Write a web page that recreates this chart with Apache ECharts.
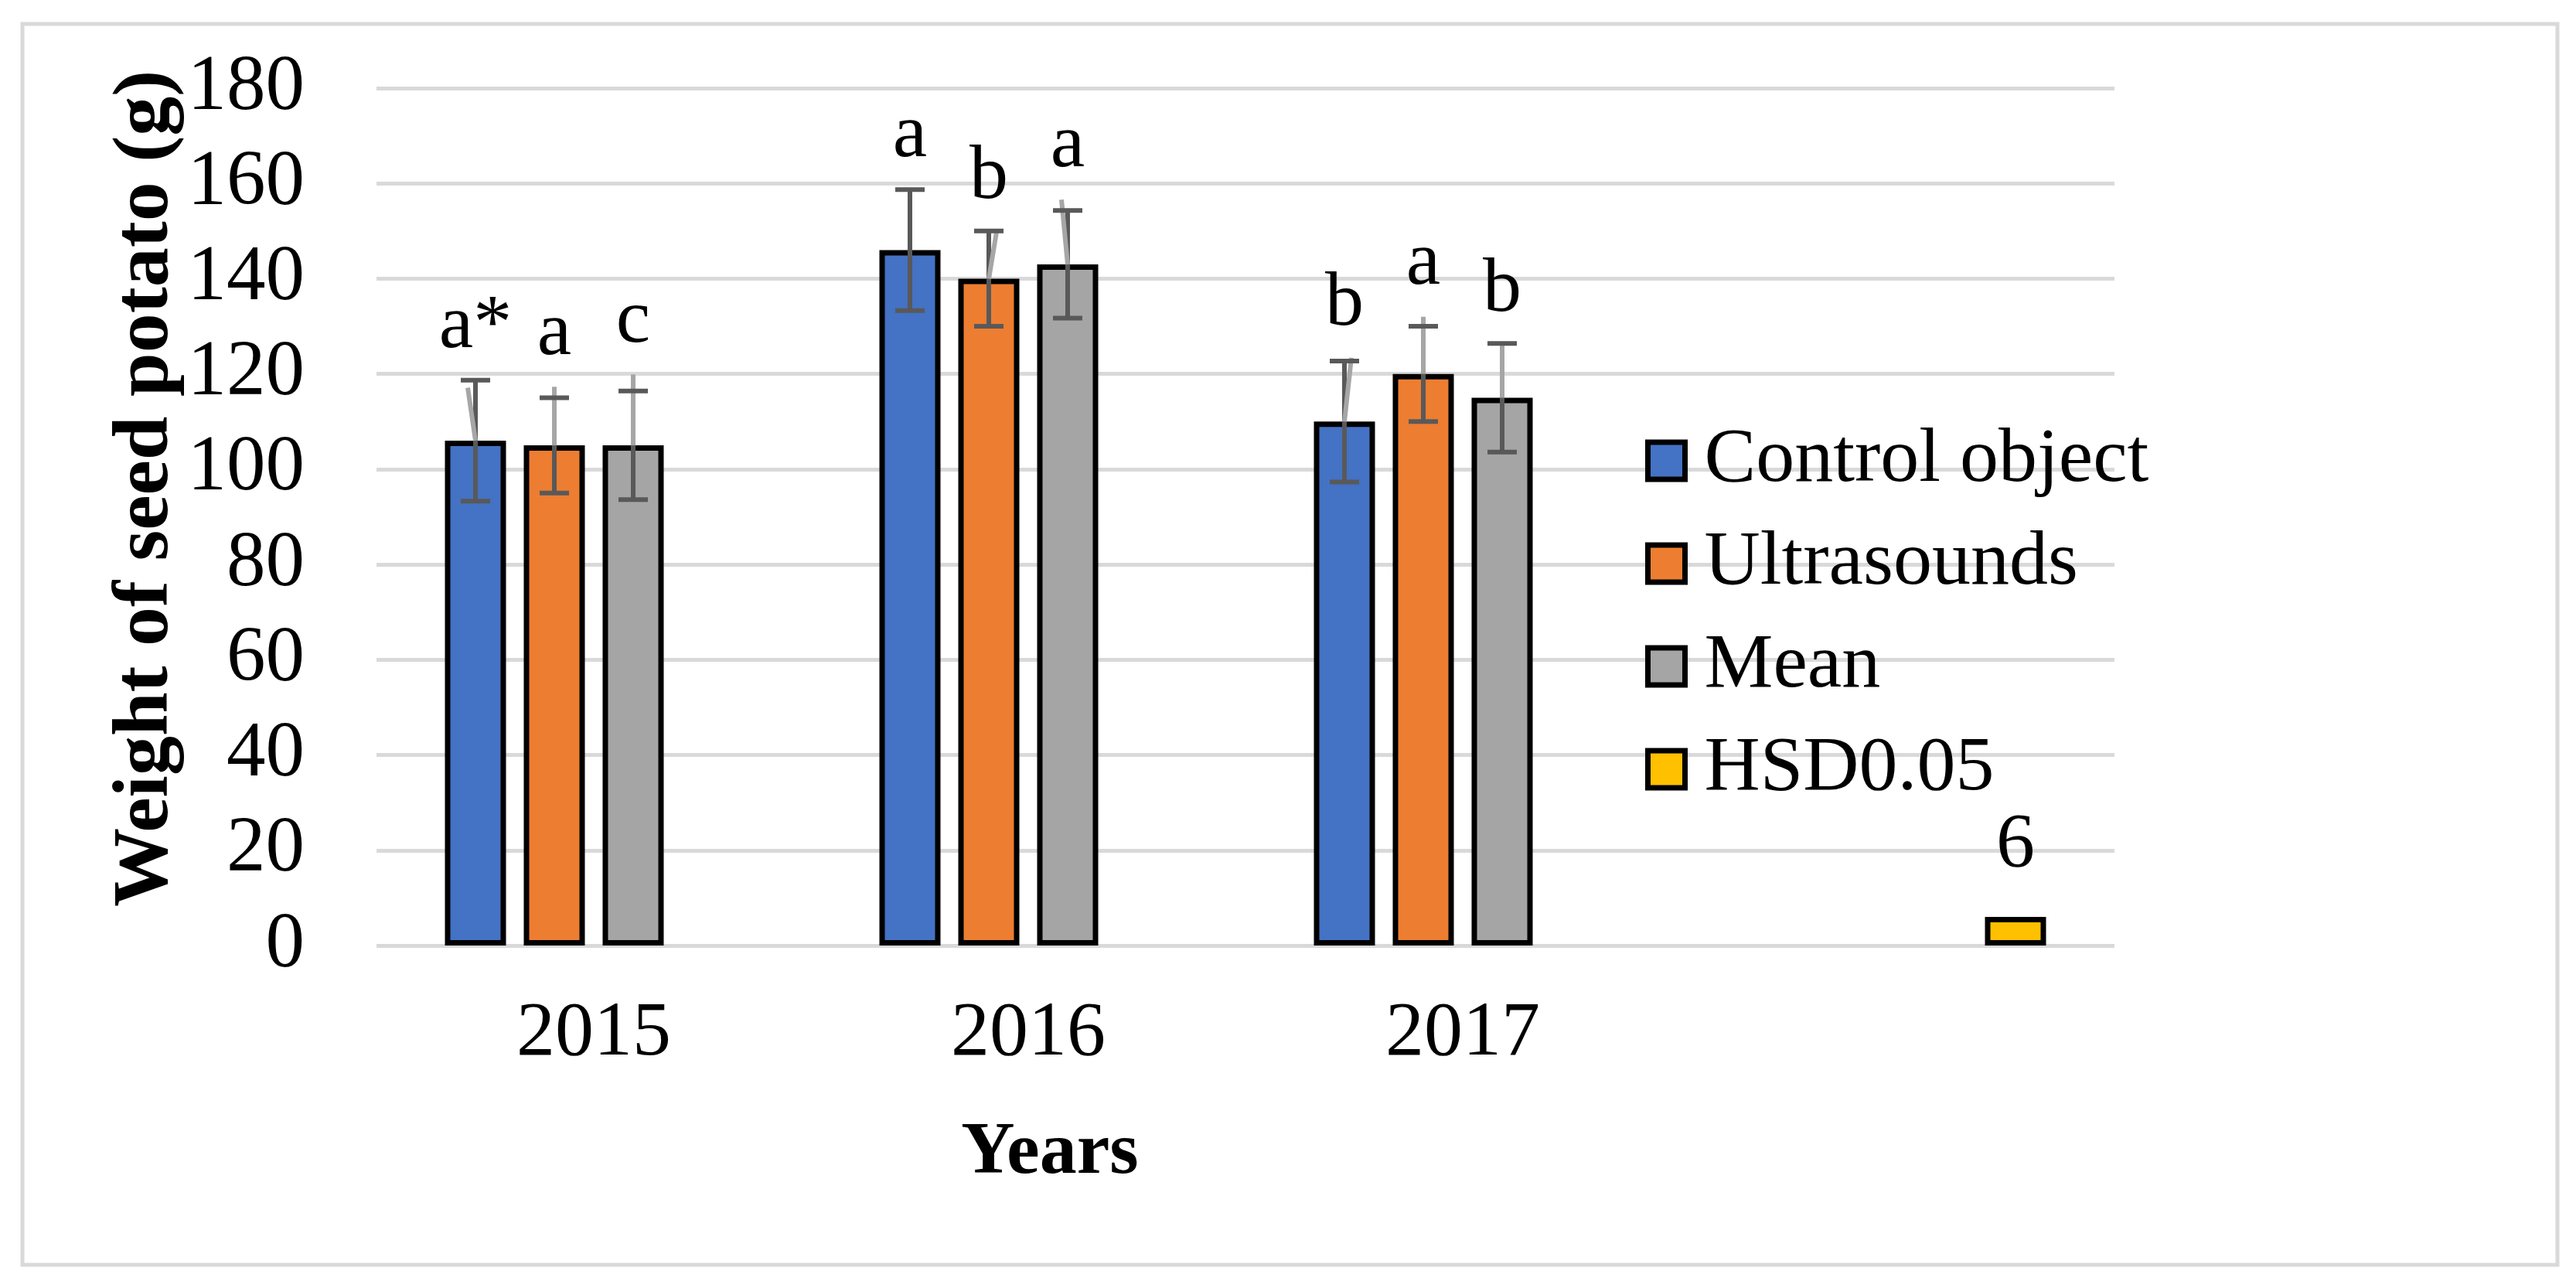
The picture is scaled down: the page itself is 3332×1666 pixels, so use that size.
<!DOCTYPE html>
<html>
<head>
<meta charset="utf-8">
<script src="https://cdn.jsdelivr.net/npm/echarts@6.0.0/dist/echarts.min.js"></script>
<style>
html,body{margin:0;padding:0;background:#fff;}
#chart{width:3332px;height:1666px;}
</style>
</head>
<body>
<div id="chart"></div>
<script>
// ---- data ----
var categories = ['2015', '2016', '2017', ''];
var seriesNames = ['Control object', 'Ultrasounds', 'Mean', 'HSD0.05'];
var controlValues = [106, 146, 110, null];
var ultrasoundValues = [105, 140, 120, null];
var meanValues = [105, 143, 115, null];
var hsdValues = [null, null, null, 6];
var controlErr = [12.7, 12.7, 12.7];
var ultrasoundErr = [10, 10, 10];
var meanErr = [11.4, 11.3, 11.4];
var controlLetters = ['a*', 'a', 'b'];
var ultrasoundLetters = ['a', 'b', 'a'];
var meanLetters = ['c', 'a', 'b'];
// upper end of the light grey whisker drawn over each bar
var controlLightTop = [117.1, null, 123.4];
var ultrasoundLightTop = [117.3, 149.8, 132.0];
var meanLightTop = [119.9, 156.6, 126.4];
var yTicks = [0, 20, 40, 60, 80, 100, 120, 140, 160, 180];

// ---- style ----
var FONT = '"Liberation Serif", "Times New Roman", serif';
var colors = ['#4472c4', '#ed7d31', '#a5a5a5', '#ffc000'];
var BAR_W = 79, BAR_GAP = 23;
var slotOffsets = [-1.5, -0.5, 0.5, 1.5].map(function (k) { return k * (BAR_W + BAR_GAP); });
var lightSlant = [[-10, 0, 9], [0, 10, 0], [0, -8, 0]];

var chart = echarts.init(document.getElementById('chart'));

function barSeries(idx, data) {
  return {
    name: seriesNames[idx],
    type: 'bar',
    data: data,
    barWidth: BAR_W,
    barGap: (BAR_GAP / BAR_W * 100) + '%',
    itemStyle: { color: colors[idx], borderColor: '#000', borderWidth: 7 },
    emphasis: { disabled: true },
    z: 2
  };
}

function errSeries(idx, vals, errs, lightTops, letters) {
  var data = [];
  for (var i = 0; i < errs.length; i++) {
    data.push([i, vals[i], errs[i], lightTops[i] == null ? vals[i] : lightTops[i]]);
  }
  return {
    type: 'custom',
    name: seriesNames[idx] + ' err',
    data: data,
    z: 5,
    silent: true,
    encode: { x: 0, y: 1 },
    renderItem: function (params, api) {
      var i = api.value(0), v = api.value(1), e = api.value(2), lt = api.value(3);
      var c = api.coord([i, v]);
      var x = c[0] + slotOffsets[idx];
      var yV = c[1];
      var yTop = api.coord([i, v + e])[1];
      var yBot = api.coord([i, v - e])[1];
      var yL = api.coord([i, lt])[1];
      var yHigh = Math.min(yTop, yL);
      var dark = { stroke: '#595959', lineWidth: 6 };
      var capHalf = 19;
      return {
        type: 'group',
        children: [
          { type: 'line', shape: { x1: x, y1: yTop, x2: x, y2: yBot }, style: dark },
          { type: 'line', shape: { x1: x + lightSlant[idx][i], y1: yL, x2: x, y2: yV }, style: { stroke: '#a6a6a6', lineWidth: 6 } },
          { type: 'line', shape: { x1: x - capHalf, y1: yTop, x2: x + capHalf, y2: yTop }, style: dark },
          { type: 'line', shape: { x1: x - capHalf, y1: yBot, x2: x + capHalf, y2: yBot }, style: dark },
          { type: 'text', style: { text: letters[i], x: x, y: yHigh - 19, fill: '#000', fontSize: 100, fontFamily: FONT, align: 'center', verticalAlign: 'bottom' } }
        ]
      };
    }
  };
}

var hsd = barSeries(3, hsdValues);
hsd.label = { show: true, position: 'top', distance: 42, fontSize: 100, fontFamily: FONT, color: '#000', formatter: '{c}' };

var option = {
  backgroundColor: '#fff',
  animation: false,
  grid: { left: 487, right: 597, top: 114, bottom: 443, containLabel: false },
  legend: {
    data: seriesNames,
    orient: 'vertical',
    left: 2128,
    top: 546,
    padding: 0,
    itemWidth: 48,
    itemHeight: 48,
    itemGap: 33,
    icon: 'rect',
    itemStyle: { borderColor: '#000', borderWidth: 7 },
    textStyle: { fontSize: 100, fontFamily: FONT, color: '#000', lineHeight: 100, padding: [0, 0, 0, 20] },
    selectedMode: false
  },
  xAxis: {
    type: 'category',
    data: categories,
    axisLine: { show: false },
    axisTick: { show: false },
    axisLabel: { fontSize: 100, fontFamily: FONT, color: '#000', margin: 65 },
    splitLine: { show: false }
  },
  yAxis: {
    type: 'value',
    min: 0,
    max: 180,
    interval: 20,
    axisLine: { show: false },
    axisTick: { show: false },
    axisLabel: { fontSize: 101, fontFamily: FONT, color: '#000', margin: 93,
      formatter: function (v) { return yTicks.indexOf(v) >= 0 ? String(v) : ''; } },
    splitLine: { show: true, lineStyle: { color: '#d9d9d9', width: 5 } }
  },
  graphic: [
    { type: 'rect', shape: { x: 29, y: 31, width: 3279, height: 1605 }, style: { fill: 'none', stroke: '#d9d9d9', lineWidth: 5 }, z: -1 },
    { type: 'text', x: 190, y: 632, rotation: Math.PI / 2,
      style: { text: 'Weight of seed potato (g)', fontSize: 102, fontWeight: 'bold', fontFamily: FONT, fill: '#000', align: 'center', verticalAlign: 'middle' } },
    { type: 'text', x: 1358, y: 1492,
      style: { text: 'Years', fontSize: 96, fontWeight: 'bold', fontFamily: FONT, fill: '#000', align: 'center', verticalAlign: 'middle' } }
  ],
  series: [
    barSeries(0, controlValues),
    barSeries(1, ultrasoundValues),
    barSeries(2, meanValues),
    hsd,
    errSeries(0, controlValues, controlErr, controlLightTop, controlLetters),
    errSeries(1, ultrasoundValues, ultrasoundErr, ultrasoundLightTop, ultrasoundLetters),
    errSeries(2, meanValues, meanErr, meanLightTop, meanLetters)
  ]
};
chart.setOption(option);
</script>
</body>
</html>
